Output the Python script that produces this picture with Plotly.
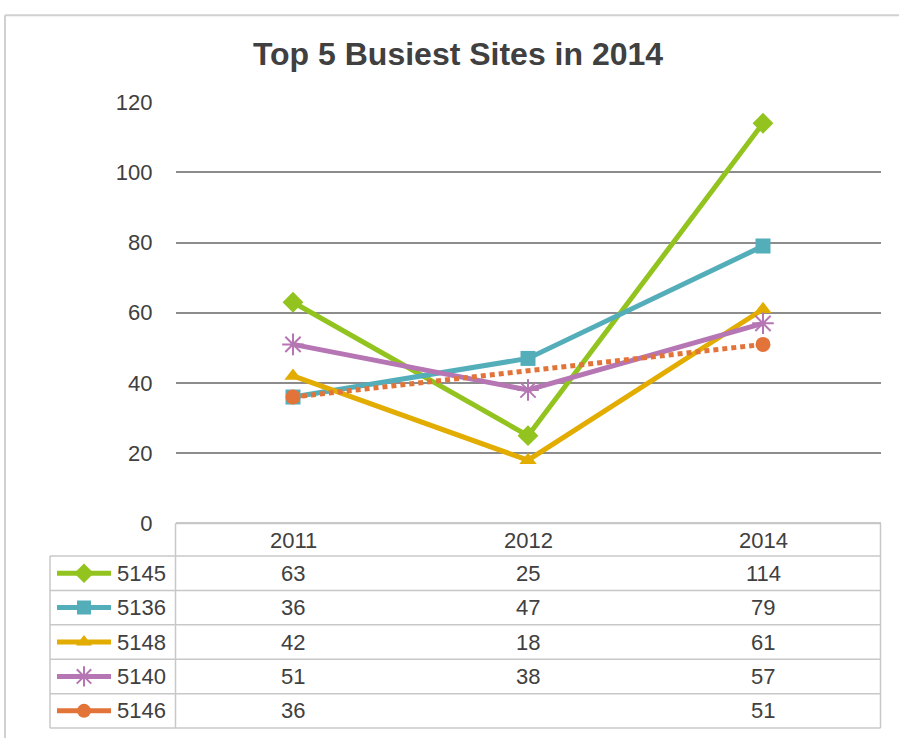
import plotly.graph_objects as go

years = ["2011", "2012", "2014"]
sites = ["5145", "5136", "5148", "5140", "5146"]
values = {
    "5145": [63, 25, 114],
    "5136": [36, 47, 79],
    "5148": [42, 18, 61],
    "5140": [51, 38, 57],
    "5146": [36, None, 51],
}
colors = {
    "5145": "#92C31E",
    "5136": "#54AEBA",
    "5148": "#E2AC00",
    "5140": "#B676B4",
    "5146": "#E2743A",
}
symbols = {
    "5145": "diamond",
    "5136": "square",
    "5148": "triangle-up",
    "5140": "asterisk-open",
    "5146": "circle",
}
msizes = {"5145": 16, "5136": 15, "5148": 15, "5140": 18, "5146": 15}
y_ticks = [0, 20, 40, 60, 80, 100, 120]
title_text = "Top 5 Busiest Sites in 2014"

W, H = 899, 751
FONT = "Liberation Sans, Arial, sans-serif"
TXT = "#404040"
TABLE_LINE = "#C8C8C8"
FS = 22


def px(x):
    return x / W


def py(y):
    return 1 - y / H


# layout geometry (pixels)
PL, PR = 175.5, 880.5
PT, PB = 93.3, 529
TL = 50
HDR_TOP, ROW_TOP, ROW_BOT = 529, 562.7, 740.7
ROW_H = (ROW_BOT - ROW_TOP) / len(sites)

fig = go.Figure()

for s in sites:
    dotted = s == "5146"
    fig.add_trace(go.Scatter(
        x=years, y=values[s], name=s, mode="lines+markers",
        connectgaps=True,
        line=dict(color=colors[s], width=5, dash="5px,4px" if dotted else "solid"),
        marker=dict(symbol=symbols[s], size=msizes[s], color=colors[s],
                    line=dict(color=colors[s], width=2 if s == "5140" else 0)),
        showlegend=False, hoverinfo="x+y+name",
    ))

# legend icons inside table (second axis pair)
for i, s in enumerate(sites):
    fig.add_trace(go.Scatter(
        x=[7, 34, 61], y=[i + 0.5] * 3, xaxis="x2", yaxis="y2",
        mode="lines+markers",
        line=dict(color=colors[s], width=5),
        marker=dict(symbol=symbols[s], size=msizes[s] - 1, color=colors[s], opacity=[0, 1, 0],
                    line=dict(color=colors[s], width=2 if s == "5140" else 0)),
        showlegend=False, hoverinfo="skip",
    ))

shapes = []
# outer frame (left + top)
shapes.append(dict(type="line", xref="paper", yref="paper", x0=px(5), x1=px(899), y0=py(3.3), y1=py(3.3),
                   line=dict(color="#D0D0D0", width=2)))
shapes.append(dict(type="line", xref="paper", yref="paper", x0=px(5), x1=px(5), y0=py(3.3), y1=py(751),
                   line=dict(color="#D0D0D0", width=2)))
# table lines
hl = [(PL, PR, HDR_TOP)] + [(TL, PR, ROW_TOP + k * ROW_H) for k in range(len(sites) + 1)]
for x0, x1, y in hl:
    shapes.append(dict(type="line", xref="paper", yref="paper", x0=px(x0), x1=px(x1), y0=py(y), y1=py(y),
                       line=dict(color=TABLE_LINE, width=1.5)))
vl = [(TL, ROW_TOP, ROW_BOT), (PL, HDR_TOP, ROW_BOT), (PR, HDR_TOP, ROW_BOT)]
for x, y0, y1 in vl:
    shapes.append(dict(type="line", xref="paper", yref="paper", x0=px(x), x1=px(x), y0=py(y0), y1=py(y1),
                       line=dict(color=TABLE_LINE, width=1.5)))

annotations = []
for j, yr in enumerate(years):
    annotations.append(dict(x=j, xref="x", y=py((HDR_TOP + ROW_TOP) / 2 + 1), yref="paper",
                            text=yr, showarrow=False, font=dict(family=FONT, size=FS, color=TXT),
                            xanchor="center", yanchor="middle"))
for i, s in enumerate(sites):
    yc = py(ROW_TOP + (i + 0.5) * ROW_H)
    annotations.append(dict(x=65, xref="x2", y=i + 0.5, yref="y2", text=s, showarrow=False,
                            font=dict(family=FONT, size=FS, color=TXT), xanchor="left", yanchor="middle"))
    for j, yr in enumerate(years):
        v = values[s][j]
        if v is None:
            continue
        annotations.append(dict(x=j, xref="x", y=yc, yref="paper", text=str(v), showarrow=False,
                                font=dict(family=FONT, size=FS, color=TXT), xanchor="center", yanchor="middle"))

fig.update_layout(
    width=W, height=H,
    margin=dict(l=0, r=0, t=0, b=0),
    paper_bgcolor="white", plot_bgcolor="white",
    font=dict(family=FONT, color=TXT),
    title=dict(text="<b>" + title_text + "</b>", x=px(458), xanchor="center", y=py(43), yanchor="middle",
               xref="paper", yref="paper", font=dict(family=FONT, size=32, color=TXT)),
    xaxis=dict(domain=[px(PL), px(PR)], type="category", categoryorder="array", categoryarray=years,
               range=[-0.5, 2.5], showticklabels=False, showgrid=False, zeroline=False, showline=False,
               ticks=""),
    yaxis=dict(domain=[py(PB), py(PT)], range=[0, 120], tickvals=y_ticks,
               showgrid=True, gridcolor="#8C8C8C", gridwidth=1.5,
               zeroline=True, zerolinecolor=TABLE_LINE, zerolinewidth=1.5,
               showline=False, ticks="", ticklabelstandoff=22,
               tickfont=dict(family=FONT, size=FS, color=TXT)),
    xaxis2=dict(domain=[px(TL), px(PL)], range=[0, PL - TL], visible=False, anchor="y2"),
    yaxis2=dict(domain=[py(ROW_BOT), py(ROW_TOP)], range=[len(sites), 0], visible=False, anchor="x2"),
    shapes=shapes,
    annotations=annotations,
)

post = (
    "var st=document.createElement('style');"
    "st.textContent='html,body{margin:0!important;padding:0!important;overflow:hidden;}';"
    "document.head.appendChild(st);"
)
fig.write_html("out.html", config={"responsive": False, "displayModeBar": False}, post_script=post)
